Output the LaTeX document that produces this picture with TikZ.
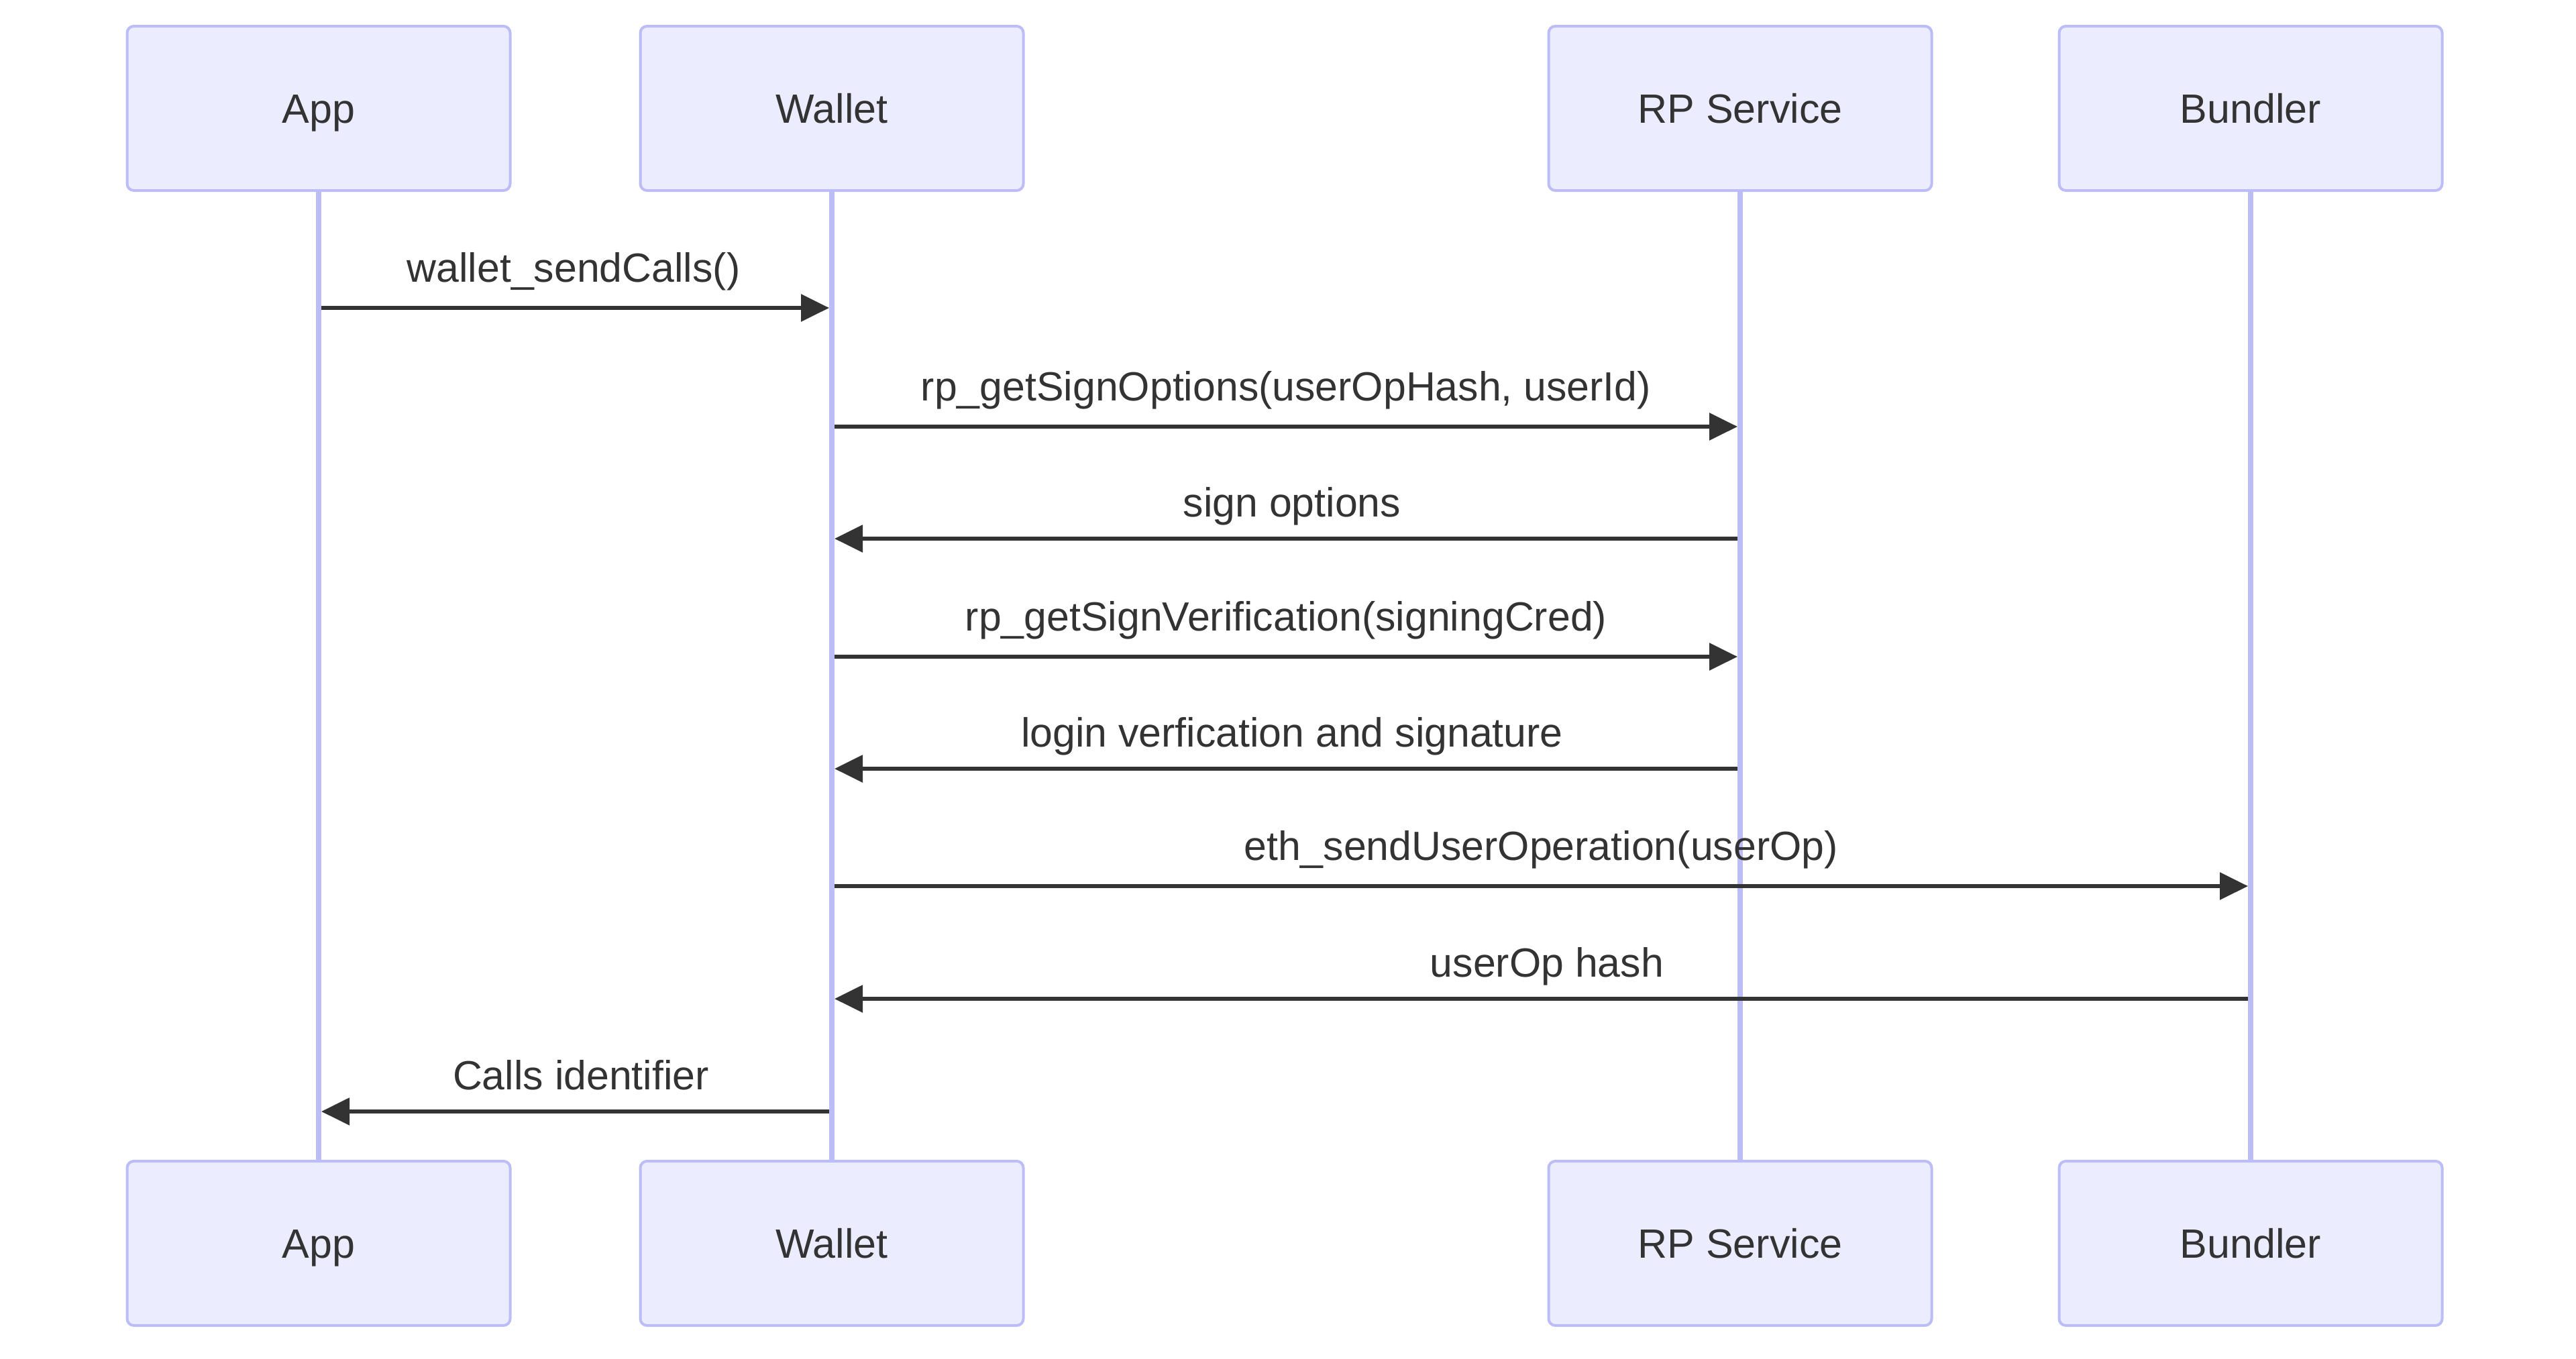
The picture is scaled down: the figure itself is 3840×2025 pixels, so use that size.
\documentclass[tikz,border=0pt]{standalone}
\usepackage{fontspec}
\setmainfont{Liberation Sans}
\usetikzlibrary{arrows.meta}
\definecolor{actfill}{HTML}{ECECFF}
\definecolor{actline}{HTML}{BCBCF6}
\definecolor{ink}{HTML}{333333}
\begin{document}
\begin{tikzpicture}[x=0.5pt,y=-0.5pt,
  actor/.style={draw=actline, fill=actfill, line width=2pt, rounded corners=5pt,
    minimum width=285.5pt, minimum height=122.5pt, inner sep=0pt,
    text height=21.8pt, text depth=0pt, text=ink, font=\fontsize{30.5}{36}\selectfont},
  lifeline/.style={draw=actline, line width=3.8pt},
  msg/.style={draw=ink, line width=2.8pt, -{Triangle[length=21pt,width=20pt]},
    shorten >=2pt, shorten <=2pt},
  msglabel/.style={anchor=base, text=ink, inner sep=0pt, font=\fontsize{30.4}{36}\selectfont}
]
\useasboundingbox (0,0) rectangle (3840,2025);
% actors
\node[actor] (appT) at (475,161.5) {App};
\node[actor] (walT) at (1240,161.5) {Wallet};
\node[actor] (rpT)  at (2594,161.5) {RP Service};
\node[actor] (bunT) at (3355,161.5) {Bundler};
\node[actor] (appB) at (475,1853.5) {App};
\node[actor] (walB) at (1240,1853.5) {Wallet};
\node[actor] (rpB)  at (2594,1853.5) {RP Service};
\node[actor] (bunB) at (3355,1853.5) {Bundler};
% lifelines
\draw[lifeline] (appT.south) -- (appB.north);
\draw[lifeline] (walT.south) -- (walB.north);
\draw[lifeline] (rpT.south) -- (rpB.north);
\draw[lifeline] (bunT.south) -- (bunB.north);
% message endpoints
\coordinate (a1) at (475,459);  \coordinate (w1) at (1240,459);
\coordinate (w2) at (1240,636); \coordinate (r2) at (2594,636);
\coordinate (r3) at (2594,803); \coordinate (w3) at (1240,803);
\coordinate (w4) at (1240,979); \coordinate (r4) at (2594,979);
\coordinate (r5) at (2594,1146); \coordinate (w5) at (1240,1146);
\coordinate (w6) at (1240,1321); \coordinate (b6) at (3355,1321);
\coordinate (b7) at (3355,1489); \coordinate (w7) at (1240,1489);
\coordinate (w8) at (1240,1657); \coordinate (a8) at (475,1657);
% messages
\draw[msg] (a1) -- (w1);
\draw[msg] (w2) -- (r2);
\draw[msg] (r3) -- (w3);
\draw[msg] (w4) -- (r4);
\draw[msg] (r5) -- (w5);
\draw[msg] (w6) -- (b6);
\draw[msg] (b7) -- (w7);
\draw[msg] (w8) -- (a8);
% labels
\node[msglabel] (l1) at (855,420) {wallet\_sendCalls()};
\node[msglabel] (l2) at (1917,597) {rp\_getSignOptions(userOpHash, userId)};
\node[msglabel] (l3) at (1926,770) {sign options};
\node[msglabel] (l4) at (1917,940) {rp\_getSignVerification(signingCred)};
\node[msglabel] (l5) at (1926,1113) {login verfication and signature};
\node[msglabel] (l6) at (2297,1282) {eth\_sendUserOperation(userOp)};
\node[msglabel] (l7) at (2306,1456) {userOp hash};
\node[msglabel] (l8) at (866,1624) {Calls identifier};
\end{tikzpicture}
\end{document}
